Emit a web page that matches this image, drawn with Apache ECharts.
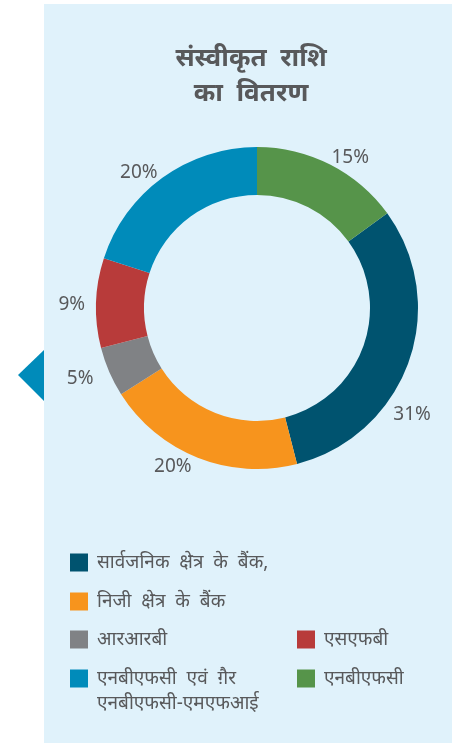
<!DOCTYPE html>
<html>
<head>
<meta charset="utf-8">
<script src="https://cdn.jsdelivr.net/npm/echarts@6/dist/echarts.min.js"></script>
<style>
html,body{margin:0;padding:0;background:#fff;}
#c{width:454px;height:743px;}
</style>
</head>
<body>
<div id="c"></div>
<script>
const titleLines = ['संस्वीकृत राशि', 'का वितरण'];
const categories = [
  'सार्वजनिक क्षेत्र के बैंक,',
  'निजी क्षेत्र के बैंक',
  'आरआरबी',
  'एसएफबी',
  'एनबीएफसी एवं ग़ैर एनबीएफसी-एमएफआई',
  'एनबीएफसी'
];
// legend text as printed (line breaks)
const legendLines = [
  ['सार्वजनिक क्षेत्र के बैंक,'],
  ['निजी क्षेत्र के बैंक'],
  ['आरआरबी'],
  ['एसएफबी'],
  ['एनबीएफसी एवं ग़ैर', 'एनबीएफसी-एमएफआई'],
  ['एनबीएफसी']
];
const shares = [31, 20, 5, 9, 20, 15];
const colors = ['#00536f', '#f7941d', '#808285', '#b83b3a', '#008bba', '#56944a'];

const FONT = '"Noto Sans", "Noto Sans Devanagari", sans-serif';
const wide = s => s.replace(/ /g, '\u00a0\u00a0');
const legendPos = [
  {left: 70, top: 553},
  {left: 70, top: 592},
  {left: 70, top: 630},
  {left: 297, top: 630},
  {left: 70, top: 669},
  {left: 297, top: 669}
];
// small label nudges (style), per slice
const labelNudge = [[-23, 51], [0, 6], [-8, 5], [-3, 2], [2, -3], [-5, -4]];
const legendFont = {fontFamily: FONT, fontSize: 19, color: '#58595b'};

const graphics = [
  {type: 'rect', z: -10, shape: {x: 44, y: 4, width: 408, height: 739}, style: {fill: '#e0f2fb'}},
  {type: 'polygon', shape: {points: [[18, 375], [44, 350], [44, 401]]}, style: {fill: '#008bba'}}
];
// continuation lines of wrapped legend labels
legendLines.forEach((lines, i) => {
  lines.slice(1).forEach((ln, k) => {
    graphics.push({
      type: 'text',
      left: legendPos[i].left + 27,
      top: legendPos[i].top + 3 + 22 * (k + 1),
      style: {text: wide(ln), fill: legendFont.color, font: '19px ' + FONT}
    });
  });
});

const chart = echarts.init(document.getElementById('c'));
chart.setOption({
  animation: false,
  color: colors,
  title: {
    text: titleLines.map(wide).join('\n'),
    left: 246,
    top: 36,
    textAlign: 'center',
    textStyle: {fontFamily: FONT, fontSize: 26, fontWeight: 'bold', color: '#58595b', lineHeight: 35}
  },
  graphic: graphics,
  legend: categories.map((name, i) => ({
    data: [name],
    left: legendPos[i].left,
    top: legendPos[i].top,
    icon: 'rect',
    itemWidth: 18,
    itemHeight: 18,
    itemGap: 0,
    padding: 0,
    selectedMode: false,
    formatter: () => wide(legendLines[i][0]),
    textStyle: Object.assign({lineHeight: 18, padding: [0, 0, 0, 4]}, legendFont)
  })),
  series: [{
    type: 'pie',
    center: [257, 308],
    radius: [113, 161],
    startAngle: 36,
    clockwise: true,
    avoidLabelOverlap: false,
    label: {
      show: true,
      position: 'outside',
      formatter: '{c}%',
      fontFamily: FONT,
      fontSize: 19,
      color: '#58595b'
    },
    labelLine: {show: false, length: 3, length2: 0},
    itemStyle: {borderWidth: 0},
    emphasis: {disabled: true},
    data: categories.map((name, i) => ({
      name: name,
      value: shares[i],
      label: {offset: labelNudge[i]}
    }))
  }]
});
</script>
</body>
</html>
